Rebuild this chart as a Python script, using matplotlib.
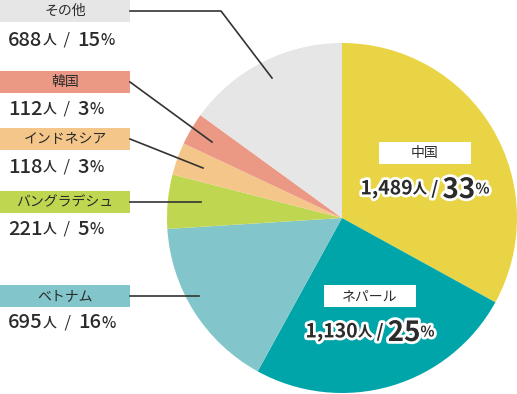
import matplotlib.pyplot as plt
import matplotlib.patheffects as pe
from matplotlib.patches import Rectangle

plt.rcParams['font.family'] = ['Noto Sans CJK JP', 'DejaVu Sans']

names = ['中国', 'ネパール', 'ベトナム', 'バングラデシュ', 'インドネシア', '韓国', 'その他']
counts = [1489, 1130, 695, 221, 118, 112, 688]
percents = [33, 25, 16, 5, 3, 3, 15]
colors = ['#e8d445', '#00a5aa', '#82c6cc', '#bfd650', '#f5c689', '#eb9985', '#e6e6e6']

W, H = 517, 394
TXT = '#2b2b2b'

fig = plt.figure(figsize=(W / 100, H / 100), dpi=100)
ax = fig.add_axes([0, 0, 1, 1])
ax.set_xlim(0, W)
ax.set_ylim(0, H)
ax.axis('off')

ax.pie(percents, colors=colors, startangle=90, counterclock=False,
       center=(342, H - 218), radius=175, wedgeprops=dict(linewidth=0))
ax.set_xlim(0, W)
ax.set_ylim(0, H)
ax.set_aspect('auto')

renderer = fig.canvas.get_renderer()


def chain(x, y, pieces, center=False, outline=False):
    # pieces: (text, size, weight); y in pixel-from-top
    arts = []
    for s, size, weight in pieces:
        t = ax.text(x, H - y, s, fontsize=size, fontweight=weight, color=TXT,
                    ha='left', va='center_baseline')
        if outline:
            t.set_path_effects([pe.withStroke(linewidth=4, foreground='white')])
        bb = t.get_window_extent(renderer)
        x = bb.x1
        arts.append(t)
    if center:
        total = arts[-1].get_window_extent(renderer).x1 - arts[0].get_window_extent(renderer).x0
        shift = total / 2
        for t in arts:
            px, py = t.get_position()
            t.set_position((px - shift, py))


# left side labels: box center y, value y, leader line points
left = {
    'その他': (11, 38, [(130, 11), (221, 11), (272, 78)]),
    '韓国': (82, 107, [(130, 82), (212, 142)]),
    'インドネシア': (139, 165, [(130, 139), (203, 168)]),
    'バングラデシュ': (202, 227, [(130, 202), (201, 202)]),
    'ベトナム': (296, 321, [(130, 296), (199, 296)]),
}

for i, name in enumerate(names):
    if name not in left:
        continue
    by, vy, pts = left[name]
    ax.add_patch(Rectangle((0, H - by - 11), 130, 22, facecolor=colors[i], edgecolor='none'))
    ax.text(65, H - by, name, fontsize=10, color=TXT, ha='center', va='center')
    ax.plot([p[0] for p in pts], [H - p[1] for p in pts], color='#333333', lw=1.2)
    chain(8, vy, [(str(counts[i]), 14.5, 'medium'), ('人', 10, 'medium'),
                  ('  /  ', 12, 'normal'), (str(percents[i]), 14.5, 'medium'),
                  ('%', 11, 'medium')])

# labels inside the big slices
inner = {'中国': (425, 153, 92, 187), 'ネパール': (370, 296, 92, 330)}
for i, name in enumerate(names):
    if name not in inner:
        continue
    cx, by, bw, vy = inner[name]
    ax.add_patch(Rectangle((cx - bw / 2, H - by - 11), bw, 22, facecolor='white', edgecolor='none'))
    ax.text(cx, H - by, name, fontsize=10, color=TXT, ha='center', va='center')
    chain(cx, vy, [('{:,}'.format(counts[i]), 14, 'bold'), ('人', 10.5, 'bold'),
                   (' / ', 13, 'bold'), (str(percents[i]), 20, 'bold'),
                   ('%', 10.5, 'bold')], center=True, outline=True)

fig.savefig('out.png', dpi=100)
